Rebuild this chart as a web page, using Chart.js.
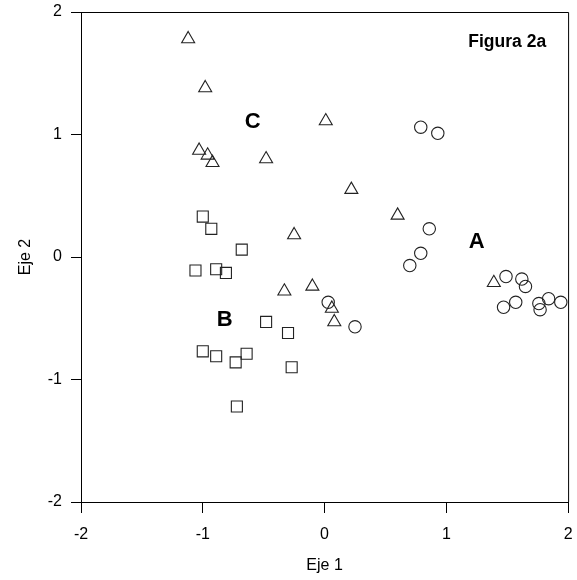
<!DOCTYPE html>
<html>
<head>
<meta charset="utf-8">
<script src="https://cdn.jsdelivr.net/npm/chart.js@4.4.1/dist/chart.umd.min.js"></script>
<style>
html,body{margin:0;padding:0;background:#fff;}
#wrap{width:577px;height:580px;}
</style>
</head>
<body>
<div id="wrap"><canvas id="c" width="577" height="580"></canvas></div>
<script>
// Group A (circles)
const groupA_x = [0.79, 0.93, 0.86, 0.79, 0.70, 0.03, 0.25, 1.49, 1.62, 1.65, 1.57, 1.47, 1.76, 1.77, 1.84, 1.94];
const groupA_y = [1.06, 1.01, 0.23, 0.03, -0.07, -0.37, -0.57, -0.16, -0.18, -0.24, -0.37, -0.41, -0.38, -0.43, -0.34, -0.37];
// Group B (squares)
const groupB_x = [-1.00, -0.93, -0.68, -1.06, -0.89, -0.81, -0.48, -0.30, -1.00, -0.89, -0.73, -0.64, -0.27, -0.72];
const groupB_y = [0.33, 0.23, 0.06, -0.11, -0.10, -0.13, -0.53, -0.62, -0.77, -0.81, -0.86, -0.79, -0.90, -1.22];
// Group C (triangles)
const groupC_x = [-1.12, -0.98, 0.01, -1.03, -0.96, -0.92, -0.48, 0.22, 0.60, -0.25, -0.33, -0.10, 0.06, 0.08, 1.39];
const groupC_y = [1.78, 1.38, 1.11, 0.87, 0.83, 0.77, 0.80, 0.55, 0.34, 0.18, -0.28, -0.24, -0.42, -0.53, -0.21];
// Axis ticks
const xTicks = [-2, -1, 0, 1, 2];
const yTicks = [-2, -1, 0, 1, 2];
// Text labels inside the plot (data coordinates)
const labelTexts = ['A', 'B', 'C', 'Figura 2a'];
const labelX = [1.25, -0.82, -0.59, 1.50];
const labelY = [0.12, -0.51, 1.10, 1.75];

function pts(xs, ys){ return xs.map((x,i)=>({x:x, y:ys[i]})); }

const FAMILY = '"Liberation Sans", Arial, sans-serif';

const framePlugin = {
  id: 'frame',
  afterDatasetsDraw(chart){
    const {ctx, chartArea:a, scales} = chart;
    ctx.save();
    ctx.strokeStyle = '#000';
    ctx.lineWidth = 1;
    ctx.beginPath();
    ctx.moveTo(a.left, a.top + 0.5);
    ctx.lineTo(a.right + 0.5, a.top + 0.5);
    ctx.lineTo(a.right + 0.5, a.bottom);
    ctx.stroke();
    ctx.fillStyle = '#000';
    ctx.textAlign = 'center';
    ctx.textBaseline = 'middle';
    labelTexts.forEach((t,i)=>{
      ctx.font = (t.length > 1 ? 'bold 17.5px ' : 'bold 22px ') + FAMILY;
      ctx.fillText(t, scales.x.getPixelForValue(labelX[i]), scales.y.getPixelForValue(labelY[i]));
    });
    ctx.restore();
  }
};

function zeroPad(s){ s.paddingTop = 0; s.paddingBottom = 0; s.paddingLeft = 0; s.paddingRight = 0; }

const tickFont = {family: FAMILY, size: 16};
const common = {
  type: 'linear', min: -2, max: 2,
  border: {display: true, color: '#000', width: 1},
  grid: {display: true, drawOnChartArea: false, drawTicks: true, color: '#000', lineWidth: 1},
};

new Chart(document.getElementById('c'), {
  type: 'scatter',
  data: {
    datasets: [
      {label: 'A', data: pts(groupA_x, groupA_y), pointStyle: 'circle', pointRadius: 6.2, borderColor: '#222', backgroundColor: 'rgba(0,0,0,0)', borderWidth: 1.1},
      {label: 'B', data: pts(groupB_x, groupB_y), pointStyle: 'rect', pointRadius: 7.8, borderColor: '#222', backgroundColor: 'rgba(0,0,0,0)', borderWidth: 1.1},
      {label: 'C', data: pts(groupC_x, groupC_y), pointStyle: 'triangle', pointRadius: 7.5, borderColor: '#222', backgroundColor: 'rgba(0,0,0,0)', borderWidth: 1.1}
    ]
  },
  options: {
    responsive: false,
    animation: false,
    devicePixelRatio: 1,
    layout: {padding: {top: 12, right: 6, left: 0, bottom: 0}},
    plugins: {legend: {display: false}, tooltip: {enabled: false}},
    scales: {
      x: Object.assign({}, common, {
        position: 'bottom',
        grid: Object.assign({}, common.grid, {tickLength: 11}),
        afterBuildTicks(s){ s.ticks = xTicks.map(v=>({value:v})); },
        afterFit(s){ s.height = 78; zeroPad(s); },
        ticks: {color: '#000', font: tickFont, padding: 12, maxRotation: 0, autoSkip: false},
        title: {display: true, text: 'Eje 1', color: '#000', font: tickFont, padding: {top: 0, bottom: 5}}
      }),
      y: Object.assign({}, common, {
        position: 'left',
        grid: Object.assign({}, common.grid, {tickLength: 10}),
        afterBuildTicks(s){ s.ticks = yTicks.map(v=>({value:v})); },
        afterFit(s){ s.width = 81; zeroPad(s); },
        ticks: {color: '#000', font: tickFont, padding: 9, autoSkip: false},
        title: {display: true, text: 'Eje 2', color: '#000', font: tickFont, padding: {top: 16, bottom: 0}}
      })
    }
  },
  plugins: [framePlugin]
});
</script>
</body>
</html>
